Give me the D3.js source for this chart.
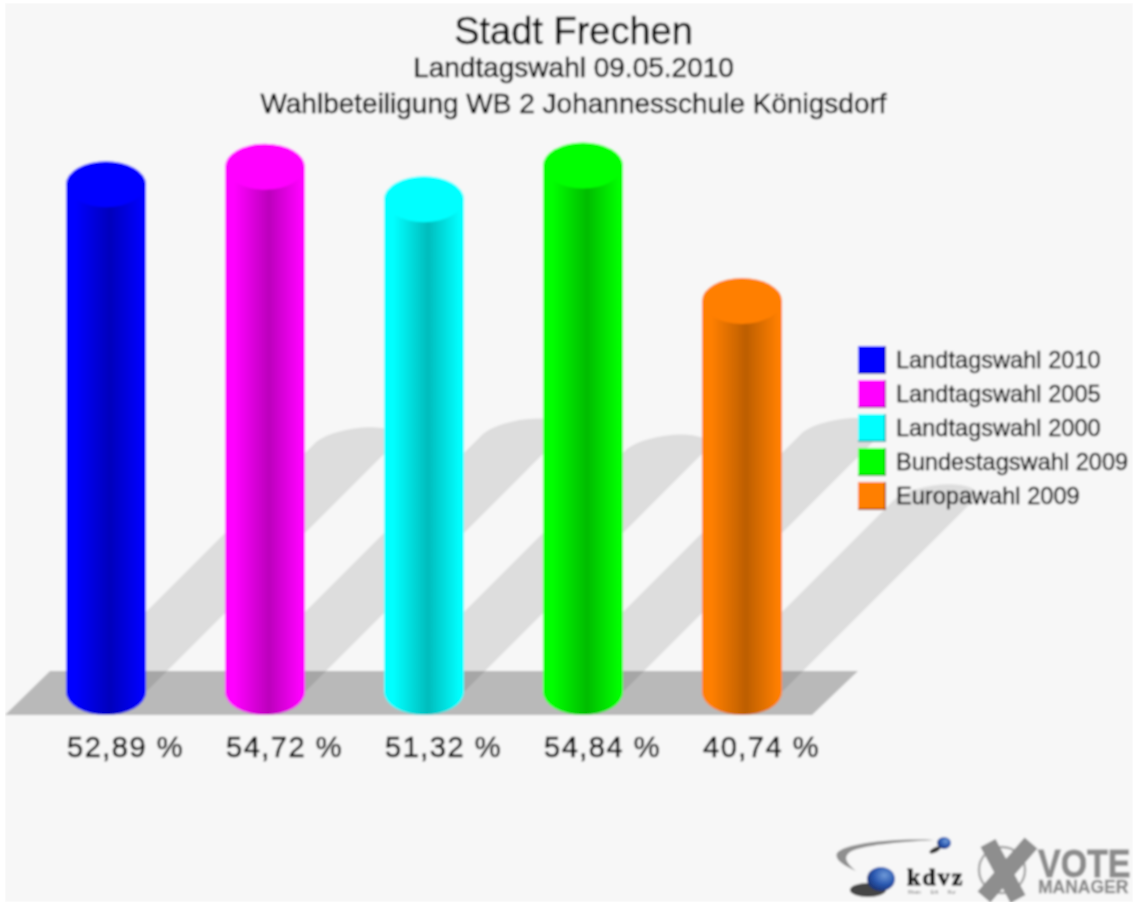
<!DOCTYPE html>
<html>
<head>
<meta charset="utf-8">
<style>
  html, body { margin: 0; padding: 0; background: #fff; }
  svg { display: block; }
  text { font-family: "Liberation Sans", Arial, sans-serif; }
</style>
<script src="https://cdn.jsdelivr.net/npm/d3@7"></script>
</head>
<body>
<div id="chart"></div>
<script>
const categories = ['Landtagswahl 2010', 'Landtagswahl 2005', 'Landtagswahl 2000', 'Bundestagswahl 2009', 'Europawahl 2009']
const turnout = [52.89, 54.72, 51.32, 54.84, 40.74]
const colors = ['#0000ff', '#ff00ff', '#00ffff', '#00ff00', '#ff7f00']
const titles = ['Stadt Frechen', 'Landtagswahl 09.05.2010', 'Wahlbeteiligung WB 2 Johannesschule Königsdorf']

const WIDTH = 1133, HEIGHT = 905
const BASE = 692          // y of the centre of the bottom ellipse
const RX = 40, RY = 23    // bar ellipse
const SHEAR = 16          // how far the shadow cap bulges along the diagonal

const x = d3.scalePoint().domain(categories).range([106, 742])
const y = d3.scaleLinear().domain([0, 100]).range([BASE, BASE - 960])

const svg = d3.select('#chart').append('svg')
  .attr('width', WIDTH)
  .attr('height', HEIGHT)

const defs = svg.append('defs')

// the reference is a soft upscaled bitmap
const soft = defs.append('filter').attr('id', 'soft')
  .attr('x', 0).attr('y', 0).attr('width', 1).attr('height', 1)
soft.append('feGaussianBlur').attr('stdDeviation', 0.8)

colors.forEach((c, i) => {
  const dark = d3.rgb(c).darker(0.85)
  const grad = defs.append('linearGradient').attr('id', 'bar' + i)
  grad.append('stop').attr('offset', '0%').attr('stop-color', c)
  grad.append('stop').attr('offset', '12%').attr('stop-color', c)
  grad.append('stop').attr('offset', '55%').attr('stop-color', dark)
  grad.append('stop').attr('offset', '95%').attr('stop-color', c)
})

const sphere = defs.append('radialGradient').attr('id', 'sphere')
  .attr('cx', '62%').attr('cy', '35%').attr('r', '70%')
sphere.append('stop').attr('offset', '0%').attr('stop-color', '#6f9ad8')
sphere.append('stop').attr('offset', '55%').attr('stop-color', '#2a58b0')
sphere.append('stop').attr('offset', '100%').attr('stop-color', '#183070')

const root = svg.append('g').attr('filter', 'url(#soft)')

root.append('rect')
  .attr('x', 5).attr('y', 3)
  .attr('width', WIDTH - 5).attr('height', 899)
  .attr('fill', '#f7f7f7')

// titles
root.selectAll('text.title')
  .data(titles)
  .join('text')
  .attr('class', 'title')
  .attr('x', 573.5)
  .attr('y', (d, i) => [44, 77, 113][i])
  .attr('text-anchor', 'middle')
  .attr('fill', '#000')
  .attr('stroke', '#000')
  .attr('stroke-width', 0.5)
  .style('font-size', (d, i) => (i === 0 ? '38px' : '28px'))
  .text(d => d)

// floor
root.append('path')
  .attr('d', 'M5,715 L50,671 L858,671 L812,715 Z')
  .attr('fill', '#b9b9b9')

// shadows: the cylinder sheared up and to the right, half its height
const shadowPath = (d, i) => {
  const cx = x(categories[i])
  const lift = (BASE - y(d)) * 0.49
  const k = 0.5523
  const lx = cx - RX + lift, rx = cx + RX + lift, cy = BASE - lift
  const tx = cx + lift + SHEAR, ty = cy - SHEAR
  const p = d3.path()
  p.moveTo(cx - RX, BASE)
  p.lineTo(lx, cy)
  p.bezierCurveTo(lx + k * SHEAR, cy - k * SHEAR, tx - k * RX, ty, tx, ty)
  p.bezierCurveTo(tx + k * RX, ty, rx + k * SHEAR, cy - k * SHEAR, rx, cy)
  p.lineTo(cx + RX, BASE)
  p.closePath()
  return p.toString()
}
root.selectAll('path.shadow')
  .data(turnout)
  .join('path')
  .attr('class', 'shadow')
  .attr('d', shadowPath)
  .attr('fill', '#000')
  .attr('fill-opacity', 0.1)

// bars
const barPath = (d, i) => {
  const cx = x(categories[i])
  return `M${cx - RX},${y(d)} L${cx - RX},${BASE}`
    + ` A${RX},${RY} 0 0 0 ${cx + RX},${BASE}`
    + ` L${cx + RX},${y(d)} Z`
}
root.selectAll('path.bar')
  .data(turnout)
  .join('path')
  .attr('class', 'bar')
  .attr('d', barPath)
  .attr('fill', (d, i) => `url(#bar${i})`)

root.selectAll('ellipse.cap')
  .data(turnout)
  .join('ellipse')
  .attr('class', 'cap')
  .attr('cx', (d, i) => x(categories[i]))
  .attr('cy', d => y(d))
  .attr('rx', RX)
  .attr('ry', RY)
  .attr('fill', (d, i) => colors[i])

// value labels, left aligned with the bars
root.selectAll('text.value')
  .data(turnout)
  .join('text')
  .attr('class', 'value')
  .attr('x', (d, i) => x(categories[i]) - RX + 1)
  .attr('y', 757)
  .attr('fill', '#000')
  .attr('stroke', '#000')
  .attr('stroke-width', 0.6)
  .style('font-size', '29px')
  .style('letter-spacing', '1.5px')
  .text(d => d3.format('.2f')(d).replace('.', ',') + ' %')

// legend
const legend = root.selectAll('g.legend')
  .data(categories)
  .join('g')
  .attr('class', 'legend')
  .attr('transform', (d, i) => `translate(858,${346 + i * 34})`)

legend.append('rect')
  .attr('width', 28).attr('height', 28)
  .attr('fill', (d, i) => d3.rgb(colors[i]).darker(1.4))
legend.append('rect')
  .attr('width', 26.5).attr('height', 26.5)
  .attr('fill', (d, i) => colors[i])
legend.append('text')
  .attr('x', 38)
  .attr('y', 22)
  .attr('fill', '#000')
  .attr('stroke', '#000')
  .attr('stroke-width', 0.4)
  .style('font-size', '23.6px')
  .text(d => d)

// kdvz / vote manager logo
const logo = root.append('g')
logo.append('path')
  .attr('d', 'M934,840 C895,838 845,843 837,853 C834,860 845,866 856,871 C848,864 842,858 850,852 C862,845 900,842 934,840 Z')
  .attr('fill', '#8f8f8f')
logo.append('ellipse').attr('cx', 935).attr('cy', 850).attr('rx', 6).attr('ry', 2.5)
  .attr('transform', 'rotate(-25 935 850)').attr('fill', '#333')
logo.append('ellipse').attr('cx', 944).attr('cy', 843).attr('rx', 7).attr('ry', 6).attr('fill', 'url(#sphere)')
logo.append('ellipse').attr('cx', 868).attr('cy', 890).attr('rx', 18).attr('ry', 7).attr('fill', '#444')
logo.append('ellipse').attr('cx', 881).attr('cy', 879).attr('rx', 14).attr('ry', 12).attr('fill', 'url(#sphere)')
logo.append('text').attr('x', 907).attr('y', 885)
  .attr('fill', '#111')
  .attr('stroke', '#111')
  .attr('stroke-width', 0.8)
  .style('font-family', '"Liberation Serif", serif')
  .style('font-weight', 'bold')
  .style('font-size', '24px')
  .style('letter-spacing', '2px')
  .text('kdvz')
logo.append('text').attr('x', 908).attr('y', 894)
  .attr('fill', '#777')
  .style('font-size', '5px')
  .style('word-spacing', '8px')
  .text('Rhein Erft Rur')
logo.append('circle').attr('cx', 1002).attr('cy', 870).attr('r', 23)
  .attr('fill', 'none').attr('stroke', '#a8a8a8').attr('stroke-width', 2.5)
logo.append('path')
  .attr('d', 'M988,843 L1018,899 M1031,843 L984,897')
  .attr('fill', 'none')
  .attr('stroke', '#8e8e8e')
  .attr('stroke-width', 17)
logo.append('text').attr('transform', 'translate(1038,877) scale(1,1.15)')
  .attr('fill', '#8c8c8c')
  .attr('stroke', '#8c8c8c')
  .attr('stroke-width', 0.8)
  .style('font-weight', 'bold')
  .style('font-size', '34px')
  .text('VOTE')
logo.append('text').attr('x', 1038).attr('y', 893)
  .attr('fill', '#8c8c8c')
  .attr('stroke', '#8c8c8c')
  .attr('stroke-width', 0.4)
  .style('font-weight', 'bold')
  .style('font-size', '17.5px')
  .text('MANAGER')
</script>
</body>
</html>
